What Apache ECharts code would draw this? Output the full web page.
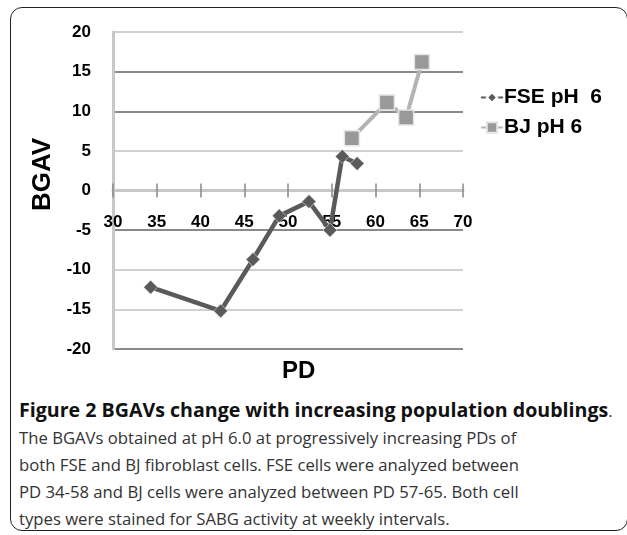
<!DOCTYPE html>
<html>
<head>
<meta charset="utf-8">
<script src="https://cdn.jsdelivr.net/npm/echarts@6/dist/echarts.min.js"></script>
<style>
  html, body { margin: 0; padding: 0; background: #fff; }
  #frame {
    position: absolute; left: 10px; top: 7px; width: 618px; height: 524px;
    border: 1.5px solid #222; border-radius: 12px; box-sizing: border-box;
  }
  #chart { position: absolute; left: 0; top: 0; width: 627px; height: 385px; }
  #caption {
    position: absolute; left: 19px; top: 396px; width: 605px;
    font-family: "Open Sans", "Noto Sans", sans-serif; font-size: 16.7px;
    line-height: 27px; color: #333; white-space: nowrap;
  }
  #caption b { color: #111; font-size: 19.6px; }
</style>
</head>
<body>
<div id="frame"></div>
<div id="chart"></div>
<div id="caption">
  <b>Figure 2 BGAVs change with increasing population doublings</b>.<br>
  The BGAVs obtained at pH 6.0 at progressively increasing PDs of<br>
  both FSE and BJ fibroblast cells. FSE cells were analyzed between<br>
  PD 34-58 and BJ cells were analyzed between PD 57-65. Both cell<br>
  types were stained for SABG activity at weekly intervals.
</div>
<script>
  // 数据 (PD, BGAV)
  var fsePD = [34.3, 42.3, 46.0, 49.0, 52.4, 54.8, 56.2, 57.9]
  var fseBGAV = [-12.2, -15.2, -8.7, -3.2, -1.4, -5.0, 4.3, 3.4]
  var bjPD = [57.3, 61.3, 63.5, 65.3]
  var bjBGAV = [6.6, 11.1, 9.2, 16.2]

  function pairs (xs, ys) {
    return xs.map(function (x, i) { return [x, ys[i]] })
  }

  var font = 'Liberation Sans, Arial, sans-serif'
  // x轴放在 y=0 处 (grid 高 317, 一半 158.5)
  var zeroOffset = -158.5
  var myChart = echarts.init(document.getElementById('chart'))
  var myOption = {
    animation: false,
    // 图形位置
    grid: { left: 113, right: 164, top: 32, bottom: 36, outerBoundsMode: 'none', containLabel: false },
    title: {
      text: 'PD',
      left: 282,
      top: 359,
      padding: 0,
      textStyle: { fontFamily: font, fontWeight: 'bold', fontSize: 24, color: '#000' }
    },
    legend: {
      orient: 'vertical',
      left: 475,
      top: 82,
      itemGap: 9,
      itemWidth: 22,
      itemHeight: 13,
      textStyle: { fontFamily: font, fontWeight: 'bold', fontSize: 21, color: '#000', padding: [0, 0, 0, -4] },
      data: ['FSE pH  6', 'BJ pH 6']
    },
    xAxis: [{
      type: 'value',
      min: 30, max: 70, interval: 5,
      position: 'top',
      offset: zeroOffset,
      axisLine: { show: true, onZero: false, lineStyle: { color: '#c8c8c8', width: 3 } },
      axisTick: { show: true, inside: true, length: 7, lineStyle: { color: '#888', width: 1.5 } },
      axisLabel: { inside: true, margin: 23, fontFamily: font, fontWeight: 'bold', fontSize: 17, color: '#000' },
      splitLine: { show: false }
    }, {
      // 上半截刻度
      type: 'value',
      min: 30, max: 70, interval: 5,
      position: 'top',
      offset: zeroOffset,
      axisLine: { onZero: false, show: false },
      axisTick: { show: true, length: 7, lineStyle: { color: '#888', width: 1.5 } },
      axisLabel: { show: false },
      splitLine: { show: false }
    }],
    yAxis: [{
      type: 'value',
      min: -20, max: 20, interval: 5,
      name: 'BGAV',
      nameLocation: 'middle',
      nameGap: 52,
      nameRotate: 90,
      nameTextStyle: { fontFamily: font, fontWeight: 'bold', fontSize: 26, color: '#000', padding: [0, 0, 0, 32] },
      axisLine: { show: true, onZero: false, lineStyle: { color: '#c8c8c8', width: 3 } },
      axisTick: { show: false },
      axisLabel: { margin: 22, fontFamily: font, fontWeight: 'bold', fontSize: 17, color: '#000' },
      splitLine: {
        show: true,
        lineStyle: {
          width: 2,
          // -20 ... 20
          color: ['#8a8a8a', '#d0d0d0', '#d0d0d0', '#8a8a8a', '#d0d0d0', '#d0d0d0', '#8a8a8a', '#8a8a8a', '#d0d0d0']
        }
      }
    }],
    series: [
      {
        name: 'FSE pH  6',
        type: 'line',
        data: pairs(fsePD, fseBGAV),
        symbol: 'diamond',
        symbolSize: 14,
        itemStyle: { color: '#5a5a5a', borderColor: '#fff', borderWidth: 0.5 },
        lineStyle: { color: '#5a5a5a', width: 4.5 },
        z: 3
      },
      {
        name: 'BJ pH 6',
        type: 'line',
        data: pairs(bjPD, bjBGAV),
        symbol: 'rect',
        symbolSize: 15,
        itemStyle: { color: '#999', borderColor: '#e6e6e6', borderWidth: 1.5 },
        lineStyle: { color: '#b4b4b4', width: 4 },
        z: 4
      }
    ]
  }
  myChart.setOption(myOption)
</script>
</body>
</html>
